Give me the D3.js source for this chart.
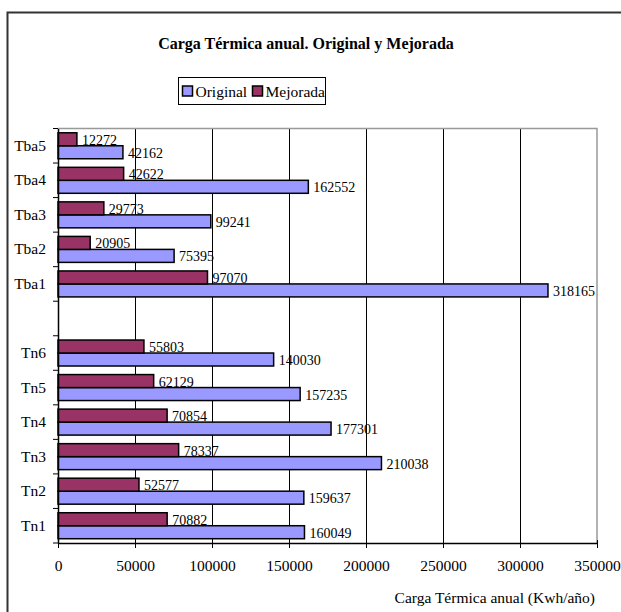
<!DOCTYPE html>
<html>
<head>
<meta charset="utf-8">
<script src="https://cdn.jsdelivr.net/npm/d3@7"></script>
</head>
<body style="margin:0;background:#fff">
<script>
// categories, top to bottom ('' is the empty gap row)
var categories = ['Tba5', 'Tba4', 'Tba3', 'Tba2', 'Tba1', '', 'Tn6', 'Tn5', 'Tn4', 'Tn3', 'Tn2', 'Tn1']
var original = [42162, 162552, 99241, 75395, 318165, null, 140030, 157235, 177301, 210038, 159637, 160049]
var mejorada = [12272, 42622, 29773, 20905, 97070, null, 55803, 62129, 70854, 78337, 52577, 70882]
var xTicks = [0, 50000, 100000, 150000, 200000, 250000, 300000, 350000]
var seriesNames = ['Original', 'Mejorada']
var colors = { Original: '#9999ff', Mejorada: '#993366' }

var FONT = '"Liberation Serif"'
var W = 621, H = 612
var margin = { top: 128.5, right: 24, bottom: 69, left: 58 },
    width = W - margin.left - margin.right,
    height = H - margin.top - margin.bottom

var svg = d3.select('body').append('svg')
    .attr('width', W)
    .attr('height', H)

// chart border
svg.append('rect')
    .attr('x', 7.5).attr('y', 12.5)
    .attr('width', 700).attr('height', 700)
    .attr('fill', 'none')
    .attr('stroke', '#333')
    .attr('stroke-width', 2)

svg.append('text')
    .attr('x', 306).attr('y', 49)
    .attr('text-anchor', 'middle')
    .style('font-family', FONT)
    .style('font-size', '16px')
    .style('font-weight', 'bold')
    .text('Carga Térmica anual. Original y Mejorada')

// legend
var leg = svg.append('g').attr('transform', 'translate(178.5,77.5)')
leg.append('rect').attr('width', 147).attr('height', 27)
    .attr('fill', '#fff').attr('stroke', '#000')
var legX = [4, 74]
seriesNames.forEach((s, i) => {
    leg.append('rect')
        .attr('x', legX[i]).attr('y', 8.5)
        .attr('width', 10).attr('height', 10)
        .attr('fill', colors[s]).attr('stroke', '#000').attr('stroke-width', 1.5)
    leg.append('text')
        .attr('x', legX[i] + 13).attr('y', 19)
        .style('font-family', FONT)
        .style('font-size', '15.5px')
        .text(s)
})

var g = svg.append('g')
    .attr('transform', 'translate(' + margin.left + ',' + margin.top + ')')

var x = d3.scaleLinear().domain([0, 350000]).range([0, width])
var y = d3.scaleBand().domain(d3.range(categories.length)).range([0, height])
var y1 = d3.scaleBand().domain(['Mejorada', 'Original'])
    .range([0, y.bandwidth()]).paddingOuter(0.33).paddingInner(0)

// gridlines
g.selectAll('.grid')
    .data(xTicks.slice(1, -1))
    .enter().append('line')
    .attr('x1', d => Math.round(x(d)) + 0.5)
    .attr('x2', d => Math.round(x(d)) + 0.5)
    .attr('y1', 0).attr('y2', height)
    .attr('stroke', '#000')

// plot area border top/right
g.append('path')
    .attr('d', 'M0,0H' + x(350000) + 'V' + height)
    .attr('fill', 'none')
    .attr('stroke', '#999')
    .attr('stroke-width', 1.5)

// bars
var rows = categories.map((c, i) => ({ i: i, c: c, Original: original[i], Mejorada: mejorada[i] }))
    .filter(d => d.c !== '')

var grp = g.selectAll('.row')
    .data(rows)
    .enter().append('g')
    .attr('transform', d => 'translate(0,' + y(d.i) + ')')

seriesNames.forEach(s => {
    grp.append('rect')
        .attr('x', 0)
        .attr('y', y1(s))
        .attr('width', d => x(d[s]))
        .attr('height', y1.bandwidth())
        .attr('fill', colors[s])
        .attr('stroke', '#000')
        .attr('stroke-width', 1.5)
    grp.append('text')
        .attr('x', d => x(d[s]) + 5)
        .attr('y', y1(s) + y1.bandwidth() / 2 + 5.5)
        .style('font-family', FONT)
        .style('font-size', '14px')
        .text(d => d[s])
})

// y axis
var yAxis = g.append('g')
    .call(d3.axisLeft(y).tickSize(0).tickFormat(i => categories[i]))
yAxis.select('.domain').attr('stroke', '#000').attr('stroke-width', 1.5)
yAxis.selectAll('text')
    .attr('x', -12)
    .style('font-family', FONT)
    .style('font-size', '15.5px')
yAxis.selectAll('.btick')
    .data(d3.range(categories.length + 1))
    .enter().append('line')
    .attr('x1', -5).attr('x2', 0)
    .attr('y1', i => i * y.step()).attr('y2', i => i * y.step())
    .attr('stroke', '#000')

// x axis
var xAxis = g.append('g')
    .attr('transform', 'translate(0,' + height + ')')
    .call(d3.axisBottom(x).tickValues(xTicks).tickFormat(d3.format('d'))
        .tickSize(5).tickSizeOuter(0).tickPadding(12))
xAxis.select('.domain').attr('stroke', '#000').attr('stroke-width', 1.5)
xAxis.selectAll('.tick line').attr('y1', -3).attr('stroke', '#000')
xAxis.selectAll('text')
    .style('font-family', FONT)
    .style('font-size', '15.5px')

svg.append('text')
    .attr('x', 595).attr('y', 603)
    .attr('text-anchor', 'end')
    .style('font-family', FONT)
    .style('font-size', '15.5px')
    .text('Carga Térmica anual (Kwh/año)')
</script>
</body>
</html>
